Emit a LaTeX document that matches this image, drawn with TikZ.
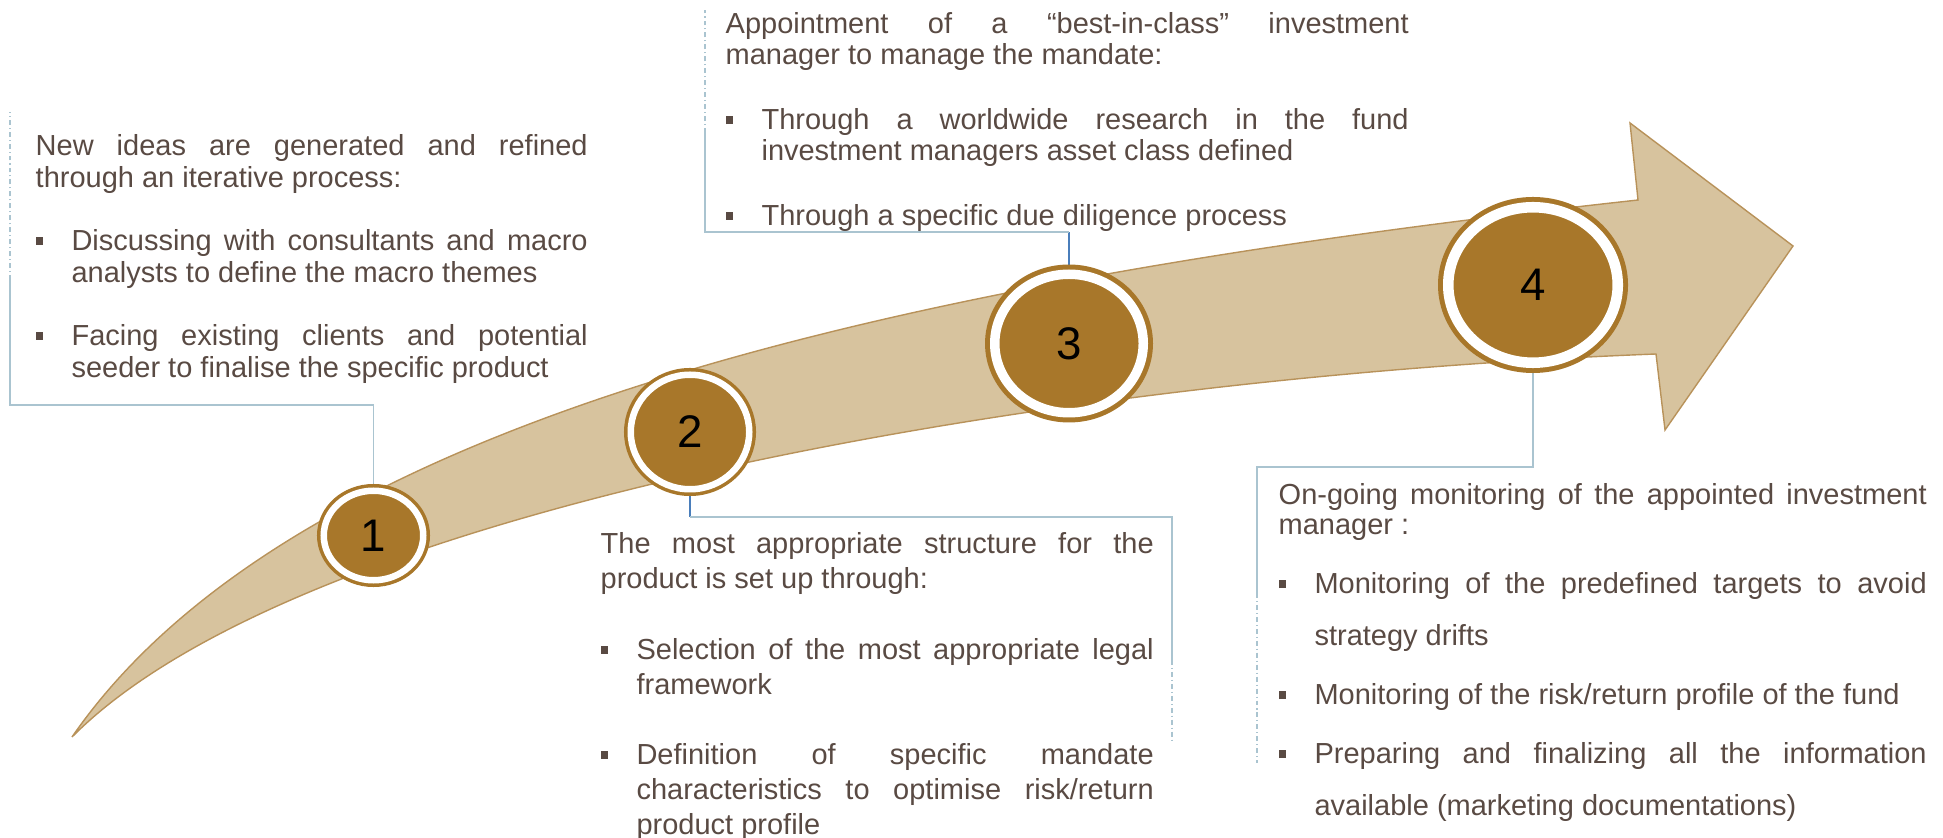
\documentclass[tikz,border=0pt]{standalone}
\usepackage{fontspec}
\setmainfont{Liberation Sans}
\usetikzlibrary{positioning}
\usetikzlibrary{shapes.geometric}
\usetikzlibrary{backgrounds}

\definecolor{tanfill}{RGB}{215,195,158}
\definecolor{tanedge}{RGB}{184,146,90}
\definecolor{brownc}{RGB}{168,119,42}
\definecolor{linkgray}{RGB}{170,196,208}
\definecolor{linkblue}{RGB}{74,126,187}
\definecolor{txt}{RGB}{89,74,67}

\newcommand{\nobreaks}{\hyphenpenalty=10000\relax\exhyphenpenalty=10000\relax\tolerance=10000\relax}
\newcommand{\sqitem}{\par\hangindent=10.2pt\hangafter=1\noindent\makebox[10.2pt][l]{\rule[1.6pt]{2.2pt}{2.2pt}}}

\begin{document}
\begin{tikzpicture}[
    stepmark/.style={ellipse, inner sep=0, fill=brownc, draw=brownc, double=white,
        font=\fontsize{13}{13}\selectfont},
    textbox/.style={anchor=north west, inner sep=0, align=justify, text=txt,
        font=\fontsize{8.25}{9.1}\selectfont\nobreaks},
    link/.style={linkgray, line width=0.5pt},
    linkdash/.style={linkgray, line width=0.5pt, dash pattern=on 1.4pt off 0.85pt on 0.3pt off 0.85pt}
    ]
\useasboundingbox (0,0) rectangle (19.43,8.37);

% steps
\node[stepmark, minimum width=0.995cm, minimum height=0.895cm, line width=1pt, double distance=1.85pt] (c1) at (3.735,3.015) {1};
\node[stepmark, minimum width=1.185cm, minimum height=1.145cm, line width=1pt, double distance=1.85pt] (c2) at (6.90,4.05) {2};
\node[stepmark, minimum width=1.485cm, minimum height=1.385cm, line width=1.42pt, double distance=2.7pt] (c3) at (10.69,4.935) {3};
\node[stepmark, minimum width=1.695cm, minimum height=1.555cm, line width=1.42pt, double distance=3pt] (c4) at (15.33,5.52) {4};

% connectors
\coordinate (b1) at (0.10,4.32);
\coordinate (e1) at (0.10,5.57);
\coordinate (f1) at (0.10,7.25);
\coordinate (b2) at (11.72,3.20);
\coordinate (e2) at (11.72,1.77);
\coordinate (f2) at (11.72,0.94);
\coordinate (b3) at (7.05,6.05);
\coordinate (e3) at (7.05,7.04);
\coordinate (f3) at (7.05,8.27);
\coordinate (b4) at (12.57,3.70);
\coordinate (e4) at (12.57,2.44);
\coordinate (f4) at (12.57,0.74);

\begin{pgfonlayer}{background}
% big arrow
\draw[fill=tanfill, draw=tanedge, line width=0.4pt]
    (0.72,1.00) .. controls (3.0,4.3) and (9.38,5.6) .. (16.38,6.37)
    -- (16.30,7.14) -- (17.93,5.91) -- (16.65,4.07) -- (16.56,4.83)
    .. controls (10.5,4.6) and (3.0,3.3) .. (0.72,1.00) -- cycle;

\draw[link] (c1.north) |- (b1) -- (e1);
\draw[linkdash] (e1) -- (f1);

\draw[linkblue, line width=0.5pt] (c2.south) -- (c2.south |- b2);
\draw[link] (c2.south |- b2) -- (b2) -- (e2);
\draw[linkdash] (e2) -- (f2);

\draw[linkblue, line width=0.5pt] (c3.north) -- (c3.north |- b3);
\draw[link] (c3.north |- b3) -- (b3) -- (e3);
\draw[linkdash] (e3) -- (f3);

\draw[link] (c4.south) |- (b4) -- (e4);
\draw[linkdash] (e4) -- (f4);
\end{pgfonlayer}

% texts
\node[textbox, text width=5.52cm] (t1) at (0.35,7.03) {%
\setlength{\parskip}{8.8pt}%
New ideas are generated and refined\linebreak through an iterative process:
\sqitem Discussing with consultants and macro\linebreak analysts to define the macro themes
\sqitem Facing existing clients and potential\linebreak seeder to finalise the specific product\par};

\node[textbox, text width=5.53cm, font=\fontsize{8.25}{10}\selectfont\nobreaks] (t2) at (6.00,3.05) {%
\setlength{\parskip}{10pt}%
The most appropriate structure for the\linebreak product is set up through:
\sqitem Selection of the most appropriate legal\linebreak framework
\sqitem Definition of specific mandate\linebreak characteristics to optimise risk/return\linebreak product profile\par};

\node[textbox, text width=6.83cm, font=\fontsize{8.25}{8.8}\selectfont\nobreaks] (t3) at (7.25,8.25) {%
\setlength{\parskip}{9.7pt}%
Appointment of a “best-in-class” investment\linebreak manager to manage the mandate:
\sqitem Through a worldwide research in the fund\linebreak investment managers asset class defined
\sqitem Through a specific due diligence process\par};

\node[textbox, text width=6.48cm, font=\fontsize{8.25}{8.5}\selectfont\nobreaks] (t4) at (12.78,3.54) {%
\setlength{\parskip}{2pt}%
On-going monitoring of the appointed investment\linebreak manager :\par
\setlength{\baselineskip}{14.8pt}%
\sqitem Monitoring of the predefined targets to avoid\linebreak strategy drifts
\sqitem Monitoring of the risk/return profile of the fund
\sqitem Preparing and finalizing all the information\linebreak available (marketing documentations)\par};

\end{tikzpicture}
\end{document}
